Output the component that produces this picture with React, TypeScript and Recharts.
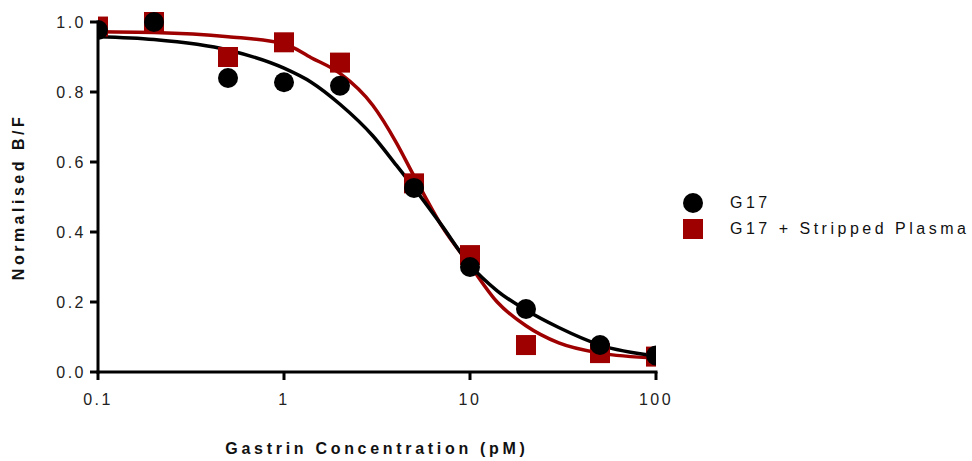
import { ComposedChart, Line, Scatter, XAxis, YAxis, Label } from 'recharts';

// measured points
const concentrations = [0.1, 0.2, 0.5, 1, 2, 5, 10, 20, 50, 100];
const g17 = [0.977, 1.0, 0.84, 0.828, 0.818, 0.526, 0.3, 0.18, 0.077, 0.047];
const g17Plasma = [0.987, 1.0, 0.9, 0.942, 0.884, 0.539, 0.334, 0.077, 0.054, 0.044];

// fitted curves
const fitX = [0.1, 0.2, 0.5, 1, 1.4, 2, 3, 4, 5, 7, 10, 14, 20, 30, 50, 100];
const g17Fit = [0.958, 0.95, 0.92, 0.868, 0.828, 0.765, 0.675, 0.592, 0.526, 0.421, 0.306, 0.232, 0.177, 0.127, 0.077, 0.046];
const g17PlasmaFit = [0.972, 0.97, 0.958, 0.938, 0.898, 0.853, 0.762, 0.657, 0.56, 0.42, 0.305, 0.2, 0.132, 0.083, 0.054, 0.04];

const xTicks = [0.1, 1, 10, 100];
const yTicks = [0, 0.2, 0.4, 0.6, 0.8, 1.0];

const RED = '#9e0000';
const FONT = '"Liberation Sans", Arial, sans-serif';

const points = concentrations.map((x, i) => ({ x, g17: g17[i], plasma: g17Plasma[i] }));
const fit = fitX.map((x, i) => ({ x, g17: g17Fit[i], plasma: g17PlasmaFit[i] }));

const CircleDot = (p: any) => <circle cx={p.cx} cy={p.cy} r={10} fill="#000" />;
const SquareDot = (p: any) => <rect x={p.cx - 10} y={p.cy - 10} width={20} height={20} fill={RED} />;

const tickStyle = { fontSize: 16, fill: '#222', fontFamily: FONT, letterSpacing: 2.5 };

function ChartLegend() {
  return (
    <div style={{ position: 'absolute', left: 682, top: 190, fontFamily: FONT, fontSize: 16, color: '#111', letterSpacing: 3.5 }}>
      <div style={{ display: 'flex', alignItems: 'center', height: 26 }}>
        <svg width={22} height={22} style={{ marginRight: 26 }}><circle cx={11} cy={11} r={10} fill="#000" /></svg>
        <span>G17</span>
      </div>
      <div style={{ display: 'flex', alignItems: 'center', height: 26 }}>
        <svg width={22} height={22} style={{ marginRight: 26 }}><rect x={1} y={1} width={20} height={20} fill={RED} /></svg>
        <span>G17 + Stripped Plasma</span>
      </div>
    </div>
  );
}

export default function App() {
  return (
    <div style={{ position: 'absolute', left: 0, top: 0, width: 972, height: 461, background: '#fff' }}>
      <ComposedChart width={972} height={461} margin={{ top: 22, right: 316, bottom: 0, left: 0 }}>
        <XAxis
          type="number"
          dataKey="x"
          scale="log"
          domain={[0.1, 100]}
          ticks={xTicks}
          allowDataOverflow
          height={89}
          axisLine={{ stroke: '#000', strokeWidth: 3, strokeLinecap: 'square' }}
          tickLine={{ stroke: '#000', strokeWidth: 3 }}
          tickSize={8}
          tickMargin={14}
          tick={tickStyle}
        >
          <Label
            content={({ viewBox }: any) => (
              <text
                x={viewBox.x + viewBox.width / 2}
                y={454}
                textAnchor="middle"
                fontFamily={FONT}
                fontSize={16}
                fontWeight="bold"
                letterSpacing={3.7}
                fill="#111"
              >
                Gastrin Concentration (pM)
              </text>
            )}
          />
        </XAxis>
        <YAxis
          type="number"
          domain={[0, 1]}
          ticks={yTicks}
          width={98}
          tickFormatter={(v: number) => v.toFixed(1)}
          axisLine={{ stroke: '#000', strokeWidth: 3, strokeLinecap: 'square' }}
          tickLine={{ stroke: '#000', strokeWidth: 3 }}
          tickSize={8}
          tickMargin={4}
          tick={tickStyle}
        >
          <Label
            content={({ viewBox }: any) => {
              const cy = viewBox.y + viewBox.height / 2;
              return (
                <text
                  x={24}
                  y={cy}
                  transform={`rotate(-90 24 ${cy})`}
                  textAnchor="middle"
                  fontFamily={FONT}
                  fontSize={16}
                  fontWeight="bold"
                  letterSpacing={3.5}
                  fill="#111"
                >
                  Normalised B/F
                </text>
              );
            }}
          />
        </YAxis>
        <Line data={fit} dataKey="plasma" type="monotone" stroke={RED} strokeWidth={3.5} dot={false} isAnimationActive={false} />
        <Line data={fit} dataKey="g17" type="monotone" stroke="#000" strokeWidth={3.5} dot={false} isAnimationActive={false} />
        <Scatter data={points} dataKey="plasma" shape={SquareDot} isAnimationActive={false} />
        <Scatter data={points} dataKey="g17" shape={CircleDot} isAnimationActive={false} />
      </ComposedChart>
      <ChartLegend />
    </div>
  );
}
